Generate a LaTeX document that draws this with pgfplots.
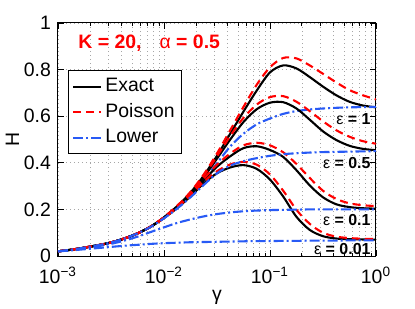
\documentclass[border=0pt]{standalone}
\usepackage{fontspec}
\setmainfont{Liberation Sans}
\usepackage{pgfplots}
\usepackage{pgfplotstable}
\pgfplotsset{compat=1.18}
\definecolor{lowblue}{RGB}{40,90,245}
\definecolor{pred}{RGB}{255,0,0}

% columns: gamma, Exact/Poisson/Lower for eps = 1, 0.5, 0.1, 0.01
\pgfplotstableread{
g          Ea    Pa    La    Eb    Pb    Lb    Ec    Pc    Lc    Ed    Pd    Ld
0.001      0.020 0.020 0.020 0.020 0.020 0.020 0.020 0.020 0.020 0.020 0.020 0.020
0.0013335  0.027 0.027 0.027 0.027 0.027 0.027 0.027 0.027 0.026 0.027 0.027 0.024
0.0017783  0.036 0.036 0.036 0.036 0.036 0.036 0.036 0.036 0.033 0.036 0.036 0.029
0.0023714  0.046 0.046 0.046 0.046 0.046 0.046 0.046 0.046 0.042 0.046 0.046 0.034
0.0031623  0.058 0.058 0.058 0.058 0.058 0.058 0.058 0.058 0.052 0.058 0.058 0.039
0.0042170  0.075 0.075 0.075 0.075 0.075 0.075 0.075 0.075 0.066 0.075 0.075 0.044
0.0056234  0.097 0.097 0.097 0.097 0.097 0.097 0.097 0.097 0.083 0.097 0.097 0.048
0.0074989  0.126 0.126 0.125 0.126 0.126 0.125 0.126 0.126 0.103 0.126 0.126 0.052
0.01       0.166 0.167 0.164 0.165 0.166 0.162 0.164 0.165 0.123 0.163 0.164 0.055
0.013335   0.214 0.216 0.208 0.212 0.214 0.204 0.209 0.211 0.142 0.206 0.208 0.057
0.017783   0.272 0.275 0.260 0.268 0.271 0.252 0.262 0.265 0.157 0.256 0.259 0.059
0.023714   0.345 0.350 0.325 0.338 0.344 0.305 0.325 0.331 0.170 0.312 0.318 0.060
0.031623   0.430 0.440 0.398 0.418 0.428 0.355 0.383 0.392 0.180 0.355 0.364 0.061
0.042170   0.525 0.540 0.470 0.500 0.515 0.388 0.428 0.440 0.187 0.380 0.393 0.062
0.056234   0.620 0.640 0.525 0.575 0.593 0.407 0.463 0.475 0.192 0.390 0.404 0.063
0.074989   0.710 0.735 0.565 0.630 0.650 0.420 0.471 0.486 0.195 0.374 0.392 0.064
0.1        0.788 0.810 0.590 0.658 0.682 0.430 0.455 0.475 0.197 0.328 0.350 0.064
0.13335    0.818 0.850 0.610 0.660 0.686 0.437 0.425 0.445 0.198 0.255 0.280 0.065
0.17783    0.805 0.848 0.622 0.633 0.662 0.441 0.368 0.395 0.199 0.168 0.198 0.065
0.23714    0.768 0.818 0.629 0.585 0.622 0.444 0.303 0.335 0.200 0.112 0.138 0.066
0.31623    0.727 0.782 0.633 0.535 0.578 0.446 0.252 0.280 0.200 0.085 0.100 0.066
0.42170    0.690 0.745 0.636 0.498 0.540 0.447 0.222 0.245 0.200 0.075 0.083 0.066
0.56234    0.662 0.712 0.638 0.473 0.512 0.448 0.210 0.226 0.200 0.072 0.077 0.067
0.74989    0.646 0.690 0.639 0.460 0.493 0.449 0.205 0.218 0.200 0.071 0.074 0.067
1          0.638 0.672 0.640 0.454 0.482 0.450 0.203 0.214 0.200 0.070 0.073 0.067
}\datatable

\begin{document}
\begin{tikzpicture}
\path[use as bounding box] (-29bp,-26.5bp) rectangle (178.5bp,128bp);
\begin{axis}[
  name=ax, at={(0,0)}, anchor=south west,
  scale only axis, width=159bp, height=116.5bp,
  font=\fontsize{9.75}{11}\selectfont,
  xmode=log, xmin=1e-3, xmax=1, ymin=0, ymax=1,
  xtick={0.001,0.01,0.1,1},
  xticklabels={10\textsuperscript{−3},10\textsuperscript{−2},10\textsuperscript{−1},10\textsuperscript{0}},
  ytick={0,0.2,0.4,0.6,0.8,1},
  yticklabels={0,0.2,0.4,0.6,0.8,1},
  minor y tick num=0,
  grid=both,
  major grid style={gray!70, line width=0.35bp, dash pattern=on 0.5bp off 1.5bp},
  minor grid style={gray!70, line width=0.35bp, dash pattern=on 0.5bp off 1.5bp},
  tick align=inside,
  major tick length=3bp, minor tick length=1.7bp,
  every tick/.style={black, line width=0.4bp},
  axis line style={line width=0.5bp},
  xticklabel style={yshift=-2bp},
  yticklabel style={xshift=0bp},
  xlabel={γ}, ylabel={H},
  every axis x label/.style={at={(axis description cs:0.5,-0.176)}, anchor=center},
  every axis y label/.style={at={(axis description cs:-0.143,0.5)}, anchor=center, rotate=90},
  legend style={at={(axis description cs:0.031,0.798)}, anchor=north west,
    draw=black, line width=0.5bp, fill=white, inner xsep=2bp, inner ysep=3bp,
    row sep=2.4bp, font=\fontsize{9.75}{11}\selectfont,
    nodes={inner xsep=1.5bp, inner ysep=1bp}},
  legend cell align=left,
  legend image code/.code={\draw[#1] (0bp,0bp) -- (14bp,0bp);},
  every axis plot/.append style={line width=1.05bp},
]
\addplot[black, smooth] table[x=g, y=Ea] {\datatable};
\addlegendentry{Exact}
\addplot[pred, smooth, dash pattern=on 4bp off 2.5bp] table[x=g, y=Pa] {\datatable};
\addlegendentry{Poisson}
\addplot[lowblue, smooth, dash pattern=on 5bp off 1.5bp on 1bp off 1.5bp] table[x=g, y=La] {\datatable};
\addlegendentry{Lower}

\addplot[black, smooth, forget plot] table[x=g, y=Eb] {\datatable};
\addplot[black, smooth, forget plot] table[x=g, y=Ec] {\datatable};
\addplot[black, smooth, forget plot] table[x=g, y=Ed] {\datatable};
\addplot[pred, smooth, dash pattern=on 4bp off 2.5bp, forget plot] table[x=g, y=Pb] {\datatable};
\addplot[pred, smooth, dash pattern=on 4bp off 2.5bp, forget plot] table[x=g, y=Pc] {\datatable};
\addplot[pred, smooth, dash pattern=on 4bp off 2.5bp, forget plot] table[x=g, y=Pd] {\datatable};
\addplot[lowblue, smooth, dash pattern=on 5bp off 1.5bp on 1bp off 1.5bp, forget plot] table[x=g, y=Lb] {\datatable};
\addplot[lowblue, smooth, dash pattern=on 5bp off 1.5bp on 1bp off 1.5bp, forget plot] table[x=g, y=Lc] {\datatable};
\addplot[lowblue, smooth, dash pattern=on 5bp off 1.5bp on 1bp off 1.5bp, forget plot] table[x=g, y=Ld] {\datatable};

\node[anchor=west, inner sep=0pt, text=pred, font=\fontsize{9.75}{11}\selectfont\bfseries]
  at (axis description cs:0.063,0.914) {K = 20,\hspace{9bp}\textmd{α} = 0.5};
\node[anchor=east, inner sep=0pt, font=\fontsize{8}{9}\selectfont\bfseries]
  at (axis description cs:0.984,0.588) {\textmd{ε} = 1};
\node[anchor=east, inner sep=0pt, font=\fontsize{8}{9}\selectfont\bfseries]
  at (axis description cs:0.984,0.399) {\textmd{ε} = 0.5};
\node[anchor=east, inner sep=0pt, font=\fontsize{8}{9}\selectfont\bfseries]
  at (axis description cs:0.984,0.155) {\textmd{ε} = 0.1};
\node[anchor=east, inner sep=0pt, font=\fontsize{8}{9}\selectfont\bfseries]
  at (axis description cs:0.984,0.030) {\textmd{ε} = 0.01};
\end{axis}
\end{tikzpicture}
\end{document}
